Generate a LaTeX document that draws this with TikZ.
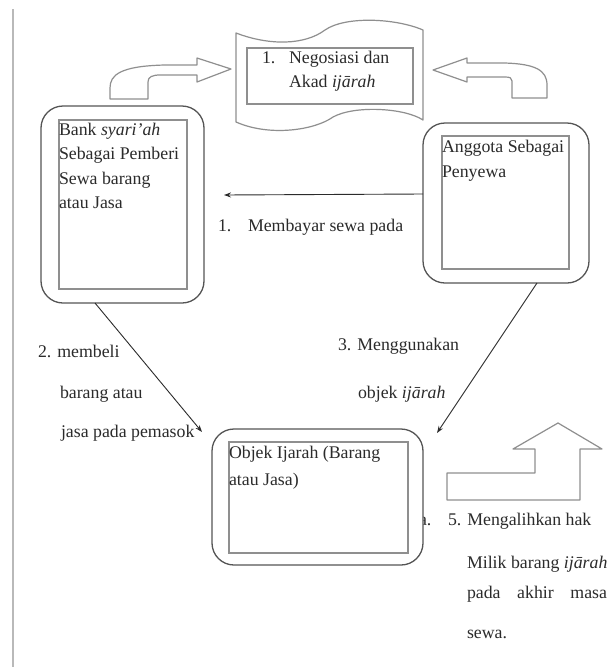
\documentclass[tikz,border=0pt]{standalone}
\usepackage{fontspec}
\setmainfont{Liberation Serif}
\usetikzlibrary{arrows.meta}
\definecolor{ink}{HTML}{2B2B2B}
\definecolor{edge}{HTML}{555555}
\definecolor{light}{HTML}{8F8F8F}
\begin{document}
\begin{tikzpicture}[x=1pt,y=-1pt,
  every node/.style={inner sep=0pt, outer sep=0pt},
  rbox/.style={draw=edge, line width=1.3pt, rounded corners=22pt, fill=white},
  ibox/.style={draw=light, line width=1.1pt},
  lbl/.style={anchor=base west, text=ink, font=\fontsize{17.8}{24}\selectfont},
  shp/.style={draw=light, line width=1.2pt, fill=white, line join=round},
  arr/.style={draw=ink, line width=0.9pt, -{Stealth[length=7pt,width=5pt]}}]
\useasboundingbox (0,0) rectangle (610,667);
\clip (0,0) rectangle (610,667);
\fill[white] (0,0) rectangle (610,667);
% page margin line
\draw[gray!55, line width=1.5pt] (13,9) -- (13,667);

% top document shape
\path[shp] (236,33) .. controls (270,46) and (305,45) .. (325,30)
  .. controls (345,16) and (395,18) .. (423,30) -- (423,120)
  .. controls (405,108) and (355,105) .. (333,117)
  .. controls (315,130) and (270,137) .. (236,122) -- cycle;
\node[ibox, minimum width=166pt, minimum height=56pt] (docin) at (330,76) {};
\node[lbl] (d1) at (262,63) {1.};
\node[lbl] (d2) at (289,63) {Negosiasi dan};
\node[lbl] (d3) at (289,87) {Akad \textit{ijārah}};

% bent arrows at the top
\path[shp] (231,69) -- (197,58) -- (197,65) -- (165,65)
  .. controls (120,66) and (110,75) .. (110,88) -- (110,99) -- (148,99) -- (148,82)
  .. controls (148,77) and (152,75) .. (160,75) -- (197,75) -- (197,82) -- cycle;
\path[shp] (433,70) -- (467,58) -- (467,63) -- (505,63)
  .. controls (535,64) and (547,70) .. (547,85) -- (547,98) -- (512,98) -- (512,81)
  .. controls (512,78) and (510,77) .. (505,77) -- (467,77) -- (467,82) -- cycle;

% Bank box
\node[rbox, minimum width=163pt, minimum height=197pt] (bank) at (122.5,204.5) {};
\node[ibox, minimum width=128pt, minimum height=169pt] (bankin) at (123,204.5) {};
\node[lbl] (b1) at (59,135) {Bank \textit{syari'ah}};
\node[lbl] (b2) at (59,159.5) {Sebagai Pemberi};
\node[lbl] (b3) at (59,184) {Sewa barang};
\node[lbl] (b4) at (59,208.5) {atau Jasa};

% Anggota box
\node[rbox, minimum width=166pt, minimum height=160pt] (angg) at (506,203) {};
\node[ibox, minimum width=127pt, minimum height=133pt] (anggin) at (505.5,202.5) {};
\node[lbl] (g1) at (442,152) {Anggota Sebagai};
\node[lbl] (g2) at (442,177) {Penyewa};

% arrow 1
\coordinate (e1) at (224,195);
\draw[arr] ([yshift=9pt]angg.west) -- (e1);
\node[lbl] (m1) at (218,231) {1.};
\node[lbl] (m2) at (248,231) {Membayar sewa pada};

% label 2
\node[lbl] (p1) at (38,357) {2. membeli};
\node[lbl] (p2) at (60,398) {barang atau};
\node[lbl] (p3) at (61,437) {jasa pada pemasok};

% label 3
\node[lbl] (q1) at (338,350) {3. Menggunakan};
\node[lbl] (q2) at (358,398) {objek \textit{ijārah}};

% label 5
\node[lbl] (r0) at (419,525) {a.};
\node[lbl] (r1) at (448,525) {5. Mengalihkan hak};
\node[lbl] (r2) at (467,568) {Milik barang \textit{ijārah}};
\node[lbl] (r3) at (467,598) {\hbox to 140pt{pada\hfill akhir\hfill masa}};
\node[lbl] (r4) at (467,638) {sewa.};

% Objek box
\node[rbox, minimum width=211pt, minimum height=136pt] (obj) at (317.5,497) {};
\node[ibox, minimum width=179pt, minimum height=111pt] (objin) at (318.5,497.5) {};
\node[lbl] (o1) at (229,458) {Objek Ijarah (Barang};
\node[lbl] (o2) at (229,485) {atau Jasa)};

% arrows 2 and 3
\coordinate (e2) at (202,432);
\coordinate (e3) at (437,433);
\draw[arr] ([xshift=-27.5pt]bank.south) -- (e2);
\draw[arr] ([xshift=31pt]angg.south) -- (e3);

% up arrow
\path[shp] (447,500) -- (580,500) -- (580,449) -- (602,449) -- (558,423)
  -- (513,449) -- (535,449) -- (535,473) -- (447,473) -- cycle;
\end{tikzpicture}
\end{document}
